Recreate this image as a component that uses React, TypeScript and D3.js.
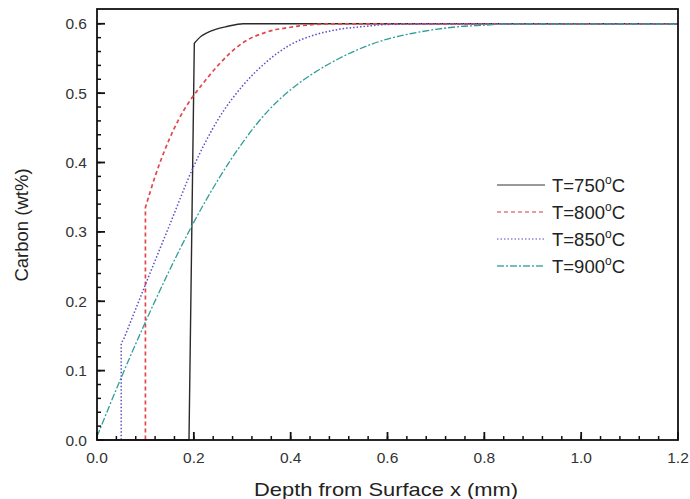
import React from "react";
import * as d3 from "d3";

const W = 690;
const H = 499;
const margin = { left: 97, right: 12, top: 9, bottom: 59 };

const xTicks = [0.0, 0.2, 0.4, 0.6, 0.8, 1.0, 1.2];
const yTicks = [0.0, 0.1, 0.2, 0.3, 0.4, 0.5, 0.6];

const seriesNames = ["T=750", "T=800", "T=850", "T=900"];

// each series: step part (linear) then diffusion profile (smooth)
const x750 = [0, 0.19, 0.201, 0.215, 0.227, 0.245, 0.268, 0.302, 0.35, 1.2];
const y750 = [0, 0, 0.572, 0.582, 0.587, 0.592, 0.596, 0.6, 0.6, 0.6];
const jump750 = 2;

const x800 = [0, 0.1, 0.1, 0.12, 0.14, 0.16, 0.18, 0.2, 0.22, 0.25, 0.3, 0.35, 0.4, 0.45, 0.5, 1.2];
const y800 = [0, 0, 0.335, 0.38, 0.418, 0.45, 0.476, 0.497, 0.515, 0.54, 0.572, 0.588, 0.595, 0.599, 0.6, 0.6];
const jump800 = 2;

const x850 = [0, 0.05, 0.05, 0.055, 0.1, 0.15, 0.2, 0.25, 0.3, 0.35, 0.4, 0.45, 0.5, 0.55, 0.6, 0.7, 1.2];
const y850 = [0, 0, 0.14, 0.145, 0.224, 0.31, 0.395, 0.462, 0.51, 0.545, 0.57, 0.584, 0.592, 0.596, 0.599, 0.6, 0.6];
const jump850 = 3;

const x900 = [0, 0.05, 0.1, 0.15, 0.2, 0.25, 0.3, 0.35, 0.4, 0.45, 0.5, 0.55, 0.6, 0.65, 0.7, 0.75, 0.8, 0.85, 0.9, 1.2];
const y900 = [0.005, 0.09, 0.17, 0.245, 0.314, 0.375, 0.428, 0.472, 0.505, 0.53, 0.55, 0.566, 0.578, 0.586, 0.592, 0.596, 0.598, 0.6, 0.6, 0.6];
const jump900 = 0;

const seriesX = [x750, x800, x850, x900];
const seriesY = [y750, y800, y850, y900];
const jumps = [jump750, jump800, jump850, jump900];
const colors = ["#2a2a2a", "#e0474c", "#5a4fc8", "#2f9e9a"];
const legendColors = ["#777777", "#e57a7a", "#8a8ad0", "#4aa9a6"];
const dashes = ["none", "4,3", "1.5,2", "7,2,2,2"];
const widths = [1.4, 1.7, 1.5, 1.3];

export default function App() {
  const x = d3.scaleLinear().domain([0, 1.2]).range([margin.left, W - margin.right]);
  const y = d3.scaleLinear().domain([0, 0.6213]).range([H - margin.bottom, margin.top]);
  const x0 = margin.left;
  const x1 = W - margin.right;
  const y0 = H - margin.bottom;
  const y1 = margin.top;
  const font = "'Liberation Sans', Arial, sans-serif";

  const straight = d3
    .line<[number, number]>()
    .x((d) => x(d[0]))
    .y((d) => y(d[1]));
  const smooth = d3
    .line<[number, number]>()
    .x((d) => x(d[0]))
    .y((d) => y(d[1]))
    .curve(d3.curveMonotoneX);

  const buildPath = (i: number) => {
    const pts = seriesX[i].map((v, j) => [v, seriesY[i][j]] as [number, number]);
    const j = jumps[i];
    const a = j > 0 ? straight(pts.slice(0, j + 1)) || "" : "";
    const b = smooth(pts.slice(j)) || "";
    return j > 0 ? a + "L" + b.slice(1) : b;
  };

  const xMinor = d3.range(0, 1.2001, 0.04);
  const yMinor = d3.range(0, 0.6001, 0.02);

  return (
    <svg
      width={W}
      height={H}
      style={{ position: "absolute", left: 0, top: 0, background: "#fff" }}
      fontFamily={font}
    >
      <rect x={0} y={0} width={W} height={H} fill="#fff" />
      {seriesX.map((xs, i) => (
        <path
          key={i}
          d={buildPath(i)}
          fill="none"
          stroke={colors[i]}
          strokeWidth={widths[i]}
          strokeDasharray={dashes[i]}
        />
      ))}
      {/* frame */}
      <rect x={x0} y={y1} width={x1 - x0} height={y0 - y1} fill="none" stroke="#111" strokeWidth={1.8} />
      {/* x ticks */}
      {xMinor.map((t, i) => (
        <line key={"xm" + i} x1={x(t)} x2={x(t)} y1={y0} y2={y0 - 4} stroke="#111" strokeWidth={1.5} />
      ))}
      {xTicks.map((t, i) => (
        <g key={"xt" + i}>
          <line x1={x(t)} x2={x(t)} y1={y0} y2={y0 - 8} stroke="#111" strokeWidth={1.8} />
          <text x={x(t)} y={y0 + 23} textAnchor="middle" fontSize={15.5} fill="#333">
            {t.toFixed(1)}
          </text>
        </g>
      ))}
      {yMinor.map((t, i) => (
        <line key={"ym" + i} x1={x0} x2={x0 + 4} y1={y(t)} y2={y(t)} stroke="#111" strokeWidth={1.5} />
      ))}
      {yTicks.map((t, i) => (
        <g key={"yt" + i}>
          <line x1={x0} x2={x0 + 8} y1={y(t)} y2={y(t)} stroke="#111" strokeWidth={1.8} />
          <text x={x0 - 10} y={y(t) + 5.5} textAnchor="end" fontSize={15.5} fill="#333">
            {t.toFixed(1)}
          </text>
        </g>
      ))}
      {/* axis titles */}
      <text
        x={386}
        y={496}
        textAnchor="middle"
        fontSize={18.5}
        fill="#222"
        textLength={264}
        lengthAdjust="spacingAndGlyphs"
      >
        Depth from Surface x (mm)
      </text>
      <text
        transform={`translate(28,225) rotate(-90)`}
        textAnchor="middle"
        fontSize={18.5}
        fill="#222"
      >
        Carbon (wt%)
      </text>
      {/* legend */}
      {seriesNames.map((name, i) => {
        const by = 192 + i * 27;
        return (
          <g key={"lg" + i}>
            <line
              x1={497}
              x2={545}
              y1={by - 7}
              y2={by - 7}
              stroke={legendColors[i]}
              strokeWidth={1.5}
              strokeDasharray={dashes[i]}
            />
            <text x={552} y={by} fontSize={18.5} fill="#222">
              {name}
              <tspan fontSize={12} dy={-8}>o</tspan>
              <tspan dy={8}>C</tspan>
            </text>
          </g>
        );
      })}
    </svg>
  );
}
